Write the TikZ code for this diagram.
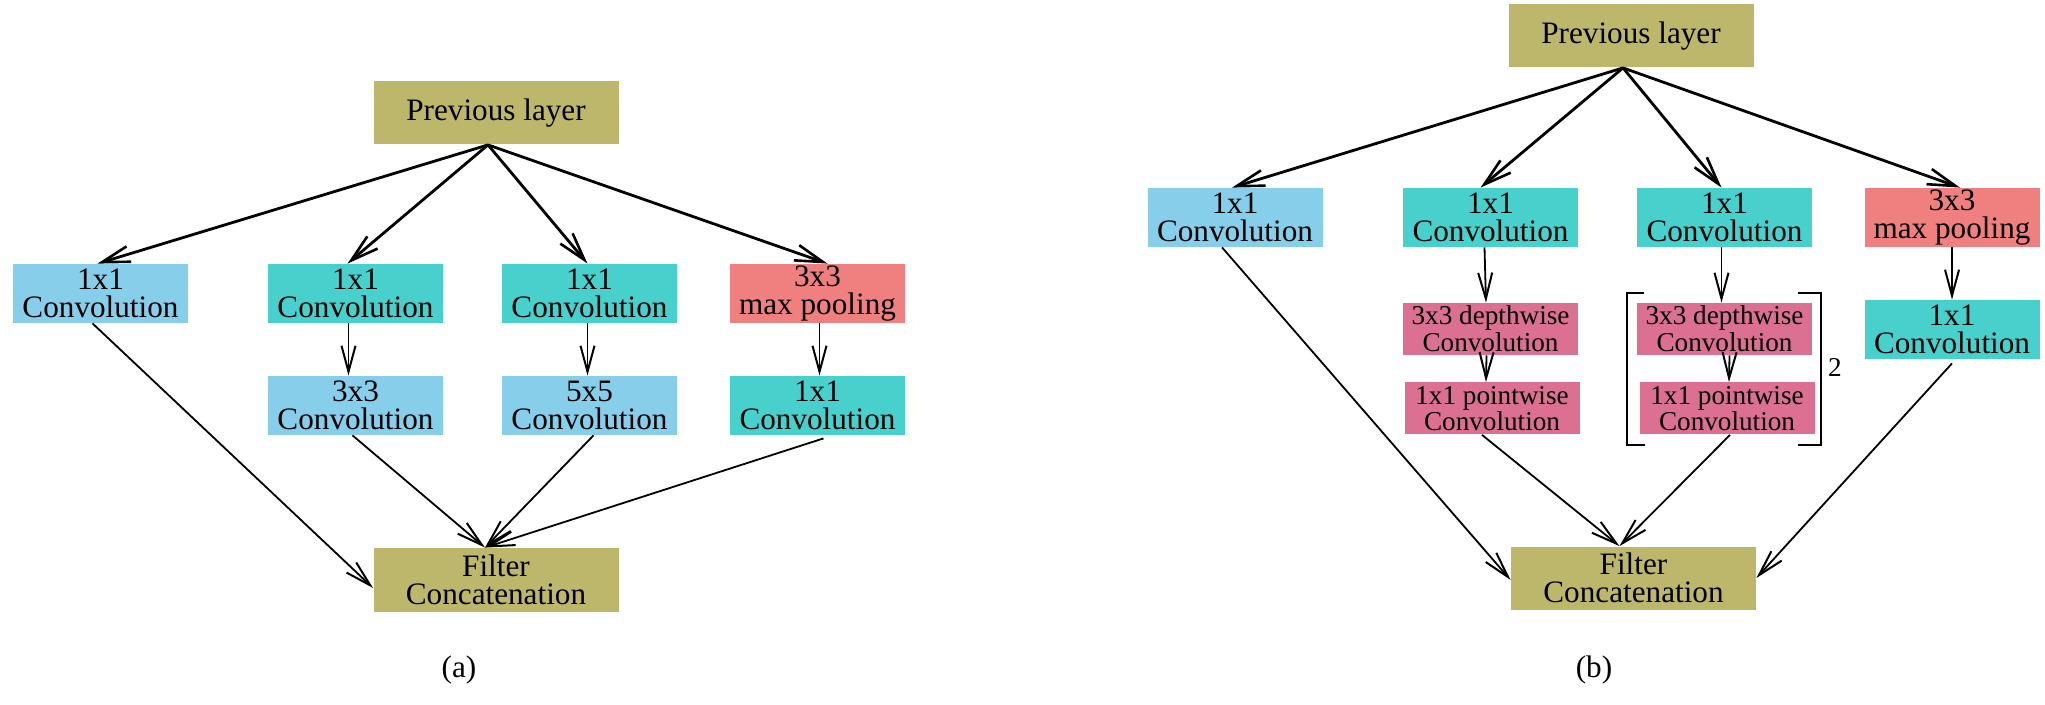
\documentclass[tikz,border=0pt]{standalone}
\usepackage{fontspec}
\setmainfont{Liberation Serif}
\usetikzlibrary{arrows.meta,calc}

\definecolor{cOlive}{RGB}{189,183,107}
\definecolor{cSky}{RGB}{135,206,235}
\definecolor{cTurq}{RGB}{72,209,204}
\definecolor{cCoral}{RGB}{240,128,128}
\definecolor{cViolet}{RGB}{219,112,147}

\tikzset{
  box/.style={rectangle, inner sep=0pt, align=center,
    font=\fontsize{15.6}{13.8}\selectfont,
    minimum width=87.5pt, minimum height=29.5pt},
  olivebox/.style={box, fill=cOlive, minimum width=122.5pt, minimum height=31.5pt},
  skybox/.style={box, fill=cSky},
  turqbox/.style={box, fill=cTurq},
  coralbox/.style={box, fill=cCoral},
  sepbox/.style={box, fill=cViolet, minimum height=26pt,
    font=\fontsize{13.6}{12.2}\selectfont},
  fan/.style={-{Straight Barb[length=14pt,width=8pt,line width=1.3pt]}, line width=1.4pt},
  flow/.style={-{Straight Barb[length=13pt,width=7pt,line width=1pt]}, line width=0.9pt},
  caption/.style={font=\fontsize{15.6}{16}\selectfont, inner sep=0pt},
  bracket/.style={line width=1.2pt}
}

\begin{document}
\begin{tikzpicture}[x=0.5pt,y=-0.5pt]
\useasboundingbox (0,0) rectangle (2045,705);

% ---------------- (a) Inception module ----------------
\node[olivebox] (prevA) at (496,113) {Previous layer};
\node[skybox]   (a1) at (100.5,293.5) {1x1\\Convolution};
\node[turqbox]  (a2) at (355.5,293.5) {1x1\\Convolution};
\node[turqbox]  (a3) at (589.5,293.5) {1x1\\Convolution};
\node[coralbox] (a4) at (817.5,293.5) {3x3\\max pooling};
\node[skybox]   (a5) at (355.5,405.5) {3x3\\Convolution};
\node[skybox]   (a6) at (589.5,405.5) {5x5\\Convolution};
\node[turqbox]  (a7) at (817.5,405.5) {1x1\\Convolution};
\node[olivebox, minimum height=32pt] (filtA) at (496,580) {Filter\\Concatenation};
\node[caption]  (capA) at (459,670) {(a)};

\coordinate (srcA) at ([xshift=-4pt]prevA.south);
\coordinate (dstA) at ([xshift=-5.5pt]filtA.north);

\draw[fan] (srcA) -- ([xshift=-1.5pt]a1.north);
\draw[fan] (srcA) -- ([xshift=-4pt]a2.north);
\draw[fan] (srcA) -- ([xshift=-1pt]a3.north);
\draw[fan] (srcA) -- ([xshift=5pt]a4.north);

\draw[flow] ([xshift=-3.5pt]a2.south) -- ([xshift=-3.5pt]a5.north);
\draw[flow] ([xshift=-1pt]a3.south) -- ([xshift=-1pt]a6.north);
\draw[flow] ([xshift=1pt]a4.south) -- ([xshift=1pt]a7.north);

\draw[flow] ([xshift=-4pt]a1.south) -- ([yshift=-4pt]filtA.west);
\draw[flow] ([xshift=-1.5pt]a5.south) -- (dstA);
\draw[flow] ([xshift=2pt]a6.south) -- (dstA);
\draw[flow] ([xshift=3pt,yshift=-1.5pt]a7.south) -- (dstA);

% ---------------- (b) module with separable convolutions ----------------
\node[olivebox] (prevB) at (1631,36) {Previous layer};
\node[skybox]   (b1) at (1235,217.5) {1x1\\Convolution};
\node[turqbox]  (b2) at (1490.5,217.5) {1x1\\Convolution};
\node[turqbox]  (b3) at (1724.5,217.5) {1x1\\Convolution};
\node[coralbox] (b4) at (1952,217.5) {3x3\\max pooling};
\node[sepbox]   (b2d) at (1490.5,329) {3x3 depthwise\\Convolution};
\node[sepbox]   (b2p) at (1492,408.5) {1x1 pointwise\\Convolution};
\node[sepbox]   (b3d) at (1724.5,329) {3x3 depthwise\\Convolution};
\node[sepbox]   (b3p) at (1727,408.5) {1x1 pointwise\\Convolution};
\node[turqbox]  (b4c) at (1952,329.5) {1x1\\Convolution};
\node[olivebox] (filtB) at (1633.5,578) {Filter\\Concatenation};
\node[caption]  (capB) at (1594,670) {(b)};

% repeat bracket around the stacked separable block
\draw[bracket] (1644,293) -- (1627,293) -- (1627,445) -- (1645,445);
\draw[bracket] (1798,293) -- (1821,293) -- (1821,445) -- (1798,445);
\node[font=\fontsize{13.6}{14}\selectfont, inner sep=0pt] (rep) at (1835,367) {2};

\coordinate (srcB) at ([xshift=-4pt]prevB.south);
\coordinate (dstB) at ([xshift=-7pt]filtB.north);

\draw[fan] (srcB) -- ([xshift=-1.5pt]b1.north);
\draw[fan] (srcB) -- ([xshift=-5pt]b2.north);
\draw[fan] (srcB) -- ([xshift=-1.5pt]b3.north);
\draw[fan] (srcB) -- ([xshift=4pt]b4.north);

\draw[flow] ([xshift=-3pt]b2.south) -- ([xshift=-2.25pt]b2d.north);
\draw[flow] ([xshift=-2pt]b2d.south) -- ([xshift=-3pt]b2p.north);
\draw[flow] ([xshift=-1.5pt]b3.south) -- ([xshift=-1.5pt]b3d.north);
\draw[flow] ([xshift=2.5pt]b3d.south) -- ([xshift=1pt]b3p.north);
\draw[flow] (b4.south) -- (b4c.north);

\draw[flow] ([xshift=-6.5pt]b1.south) -- ([yshift=-1pt]filtB.west);
\draw[flow] ([xshift=-5pt]b2p.south) -- (dstB);
\draw[flow] ([xshift=1.5pt]b3p.south) -- (dstB);
\draw[flow] ([yshift=-2pt]b4c.south) -- ([yshift=0pt]filtB.east);
\end{tikzpicture}
\end{document}
